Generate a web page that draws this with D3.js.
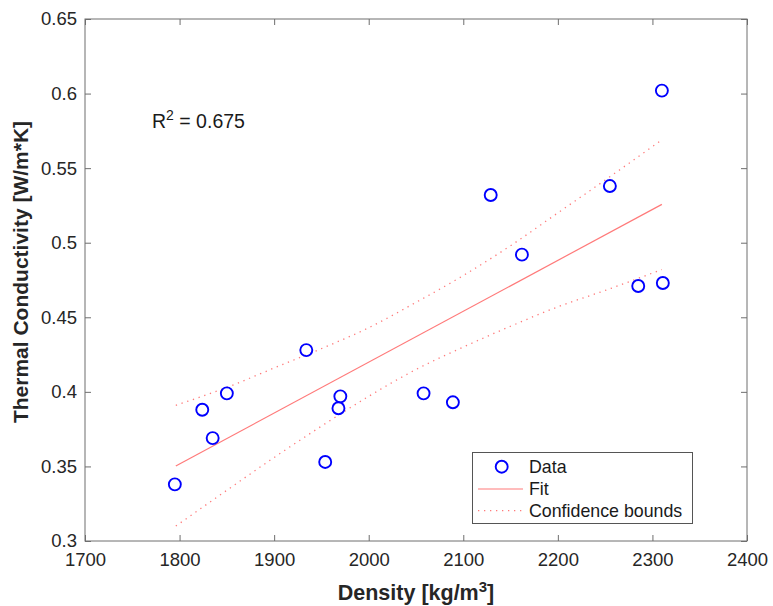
<!DOCTYPE html>
<html>
<head>
<meta charset="utf-8">
<script src="https://cdn.jsdelivr.net/npm/d3@7/dist/d3.min.js"></script>
<style>
  html, body { margin: 0; padding: 0; background: #fff; }
  svg { display: block; font-family: "Liberation Sans", Arial, Helvetica, sans-serif; }
</style>
</head>
<body>
<svg id="chart" width="773" height="606"></svg>
<script>
// ---- data ----
const density = [1795, 1824, 1835, 1850, 1934, 1954, 1968, 1970, 2058, 2089, 2129, 2162, 2255, 2285, 2311, 2310];
const conductivity = [0.338, 0.388, 0.369, 0.399, 0.428, 0.353, 0.389, 0.397, 0.399, 0.393, 0.532, 0.492, 0.538, 0.471, 0.473, 0.602];

const fitX = [1796, 2310];
const fitY = [0.3503, 0.5257];

const boundX = [1796, 1850, 1900, 1950, 2000, 2050, 2100, 2150, 2200, 2250, 2310];
const upperY = [0.391, 0.403, 0.416, 0.429, 0.443, 0.460, 0.478, 0.498, 0.520, 0.542, 0.569];
const lowerY = [0.310, 0.334, 0.356, 0.377, 0.397, 0.415, 0.430, 0.444, 0.457, 0.468, 0.482];

const xTicks = [1700, 1800, 1900, 2000, 2100, 2200, 2300, 2400];
const yTicks = [0.3, 0.35, 0.4, 0.45, 0.5, 0.55, 0.6, 0.65];
const yTickLabels = ["0.3", "0.35", "0.4", "0.45", "0.5", "0.55", "0.6", "0.65"];

const legendLabels = ["Data", "Fit", "Confidence bounds"];
const xLabel = "Density [kg/m";
const yLabel = "Thermal Conductivity [W/m*K]";
const r2Value = "0.675";

// ---- layout ----
const svg = d3.select("#chart");
const L = 85, R = 747, T = 19, B = 541;
const x = d3.scaleLinear().domain([1700, 2400]).range([L, R]);
const y = d3.scaleLinear().domain([0.3, 0.65]).range([B, T]);

const axisColor = "#6e6e6e";
const fitColor = "#ff7a7a";

// box
svg.append("rect").attr("x", L).attr("y", T).attr("width", R - L).attr("height", B - T)
  .attr("fill", "none").attr("stroke", axisColor).attr("stroke-width", 1);

// axes with inward ticks
const tl = 6;
const fmtY = (d, i) => yTickLabels[i];
const gx = svg.append("g").attr("transform", `translate(0,${B})`)
  .call(d3.axisBottom(x).tickValues(xTicks).tickSize(-tl).tickPadding(tl + 8).tickFormat(d3.format("d")));
const gxTop = svg.append("g").attr("transform", `translate(0,${T})`)
  .call(d3.axisTop(x).tickValues(xTicks).tickSize(-tl).tickFormat(""));
const gy = svg.append("g").attr("transform", `translate(${L},0)`)
  .call(d3.axisLeft(y).tickValues(yTicks).tickSize(-tl).tickPadding(tl + 8).tickFormat(fmtY));
const gyR = svg.append("g").attr("transform", `translate(${R},0)`)
  .call(d3.axisRight(y).tickValues(yTicks).tickSize(-tl).tickFormat(""));

[gx, gxTop, gy, gyR].forEach(g => {
  g.select(".domain").remove();
  g.selectAll(".tick line").attr("stroke", axisColor);
  g.selectAll(".tick text").attr("fill", "#262626").style("font-size", "18.5px")
    .style("font-family", '"Liberation Sans", Arial, Helvetica, sans-serif');
});
gy.selectAll(".tick text").attr("x", -8);
gx.selectAll(".tick text").attr("y", 12);

// confidence bounds
const line = d3.line().x(d => x(d[0])).y(d => y(d[1])).curve(d3.curveMonotoneX);
[upperY, lowerY].forEach(arr => {
  svg.append("path").datum(boundX.map((v, i) => [v, arr[i]]))
    .attr("d", line).attr("fill", "none").attr("stroke", fitColor)
    .attr("stroke-width", 1.3).attr("stroke-dasharray", "1.3,4.7");
});

// fit line
svg.append("path").datum(fitX.map((v, i) => [v, fitY[i]]))
  .attr("d", d3.line().x(d => x(d[0])).y(d => y(d[1])))
  .attr("fill", "none").attr("stroke", fitColor).attr("stroke-width", 1.2);

// data markers
svg.append("g").selectAll("circle").data(density.map((v, i) => [v, conductivity[i]]))
  .join("circle").attr("cx", d => x(d[0])).attr("cy", d => y(d[1])).attr("r", 6)
  .attr("fill", "none").attr("stroke", "#0000ff").attr("stroke-width", 1.9);

// R^2 annotation
const r2 = svg.append("text").attr("x", 152).attr("y", 128).attr("fill", "#1a1a1a")
  .style("font-size", "19.5px");
r2.append("tspan").text("R");
r2.append("tspan").attr("dy", -8).style("font-size", "14px").text("2");
r2.append("tspan").attr("dy", 8).text(" = " + r2Value);

// axis labels
const xl = svg.append("text").attr("x", (L + R) / 2).attr("y", 600).attr("text-anchor", "middle")
  .attr("fill", "#262626").style("font-size", "21.5px").style("font-weight", "bold");
xl.append("tspan").text(xLabel);
xl.append("tspan").attr("dy", -8).style("font-size", "15px").text("3");
xl.append("tspan").attr("dy", 8).text("]");

svg.append("text").attr("transform", `translate(28,272) rotate(-90)`).attr("text-anchor", "middle")
  .attr("fill", "#262626").style("font-size", "21px").style("font-weight", "bold").text(yLabel);

// legend
const lg = svg.append("g");
lg.append("rect").attr("x", 472.5).attr("y", 452.5).attr("width", 220).attr("height", 71)
  .attr("fill", "#fff").attr("stroke", "#555").attr("stroke-width", 1);
const rows = [466.7, 489, 510.7];
lg.append("circle").attr("cx", 501.7).attr("cy", rows[0]).attr("r", 6)
  .attr("fill", "none").attr("stroke", "#0000ff").attr("stroke-width", 1.9);
lg.append("line").attr("x1", 478).attr("x2", 523).attr("y1", rows[1]).attr("y2", rows[1])
  .attr("stroke", fitColor).attr("stroke-width", 1.2);
lg.append("line").attr("x1", 478).attr("x2", 523).attr("y1", rows[2]).attr("y2", rows[2])
  .attr("stroke", fitColor).attr("stroke-width", 1.3).attr("stroke-dasharray", "1.3,4.7");
legendLabels.forEach((t, i) => {
  lg.append("text").attr("x", 529).attr("y", rows[i]).attr("dy", "0.35em")
    .attr("fill", "#1a1a1a").style("font-size", "17.8px").text(t);
});
</script>
</body>
</html>
